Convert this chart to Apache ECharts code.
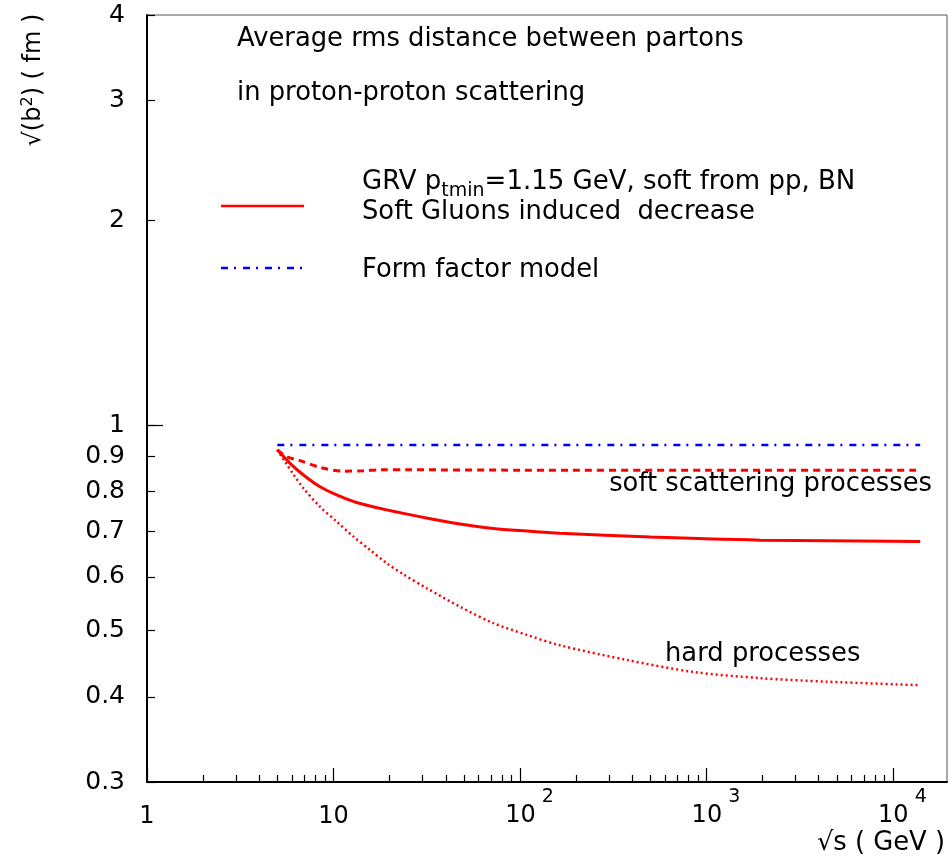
<!DOCTYPE html>
<html><head><meta charset="utf-8">
<script src="https://cdn.jsdelivr.net/npm/echarts@6/dist/echarts.min.js"></script>
<style>html,body{margin:0;padding:0;background:#fff}#c{width:949px;height:859px}</style>
</head><body><div id="c"></div>
<script>
// ---- data ----
const xMajorTicks = [1, 10, 100, 1000, 10000];
const xMinorTicks = [2,3,4,5,6,7,8,9,20,30,40,50,60,70,80,90,200,300,400,500,600,700,800,900,2000,3000,4000,5000,6000,7000,8000,9000];
const yTickLabels = [0.3, 0.4, 0.5, 0.6, 0.7, 0.8, 0.9, 1, 2, 3, 4];
const yLongTicks = [1];

const formFactorX = [5, 14000];
const formFactorY = [0.936, 0.936];

const gluonX = [5, 5.85, 6.9, 8.47, 10.4, 13.3, 19.3, 33, 47.8, 72, 109, 164, 500, 1945, 14000];
const gluonY = [0.921, 0.880, 0.846, 0.813, 0.791, 0.771, 0.752, 0.730, 0.717, 0.706, 0.700, 0.695, 0.686, 0.679, 0.676];

const softX = [5, 5.62, 6.62, 8.47, 11.3, 14.5, 17.8, 25, 100, 1000, 14000];
const softY = [0.921, 0.900, 0.888, 0.868, 0.857, 0.858, 0.861, 0.861, 0.860, 0.860, 0.860];

const hardX = [5, 5.5, 6.22, 6.9, 8.47, 10.4, 12.8, 15.7, 19.3, 23.7, 31.7, 47.8, 72, 109, 164, 374, 853, 1945, 4426, 14000];
const hardY = [0.921, 0.885, 0.841, 0.809, 0.760, 0.723, 0.687, 0.657, 0.628, 0.605, 0.577, 0.542, 0.513, 0.493, 0.476, 0.453, 0.435, 0.426, 0.421, 0.416];

// ---- chart ----
const FONT = 'DejaVu Sans';
const TXT = '25.8px "DejaVu Sans"';
const pairs = (xs, ys) => xs.map((x, i) => [x, ys[i]]);
const chart = echarts.init(document.getElementById('c'), null, {renderer: 'canvas'});

const xLabelFmt = v => {
  const e = Math.round(Math.log10(v));
  if (e === 0) return '{q|1}';
  if (e === 1) return '{q|10}';
  return '{p|10}{s|' + e + '}';
};
const yLabelFmt = v => v < 0.999 ? (Math.round(v * 10) / 10).toFixed(1) : String(Math.round(v));

const blackLine = {color: '#000', width: 2};

chart.setOption({
  animation: false,
  backgroundColor: '#fff',
  grid: {left: 147, right: 2, top: 15, bottom: 77, show: true, borderColor: '#555', borderWidth: 1, backgroundColor: 'transparent'},
  xAxis: [{
    type: 'log', logBase: 10, min: 1, max: 19500, position: 'bottom',
    axisLine: {lineStyle: blackLine},
    axisTick: {show: true, inside: true, length: 14, customValues: xMajorTicks, lineStyle: {color: '#000', width: 1.2}},
    axisLabel: {
      customValues: xMajorTicks, formatter: xLabelFmt, margin: 6, color: '#000',
      fontFamily: FONT, fontSize: 24,
      rich: {
        q: {fontFamily: FONT, fontSize: 24, color: '#000', padding: [17, 0, 0, 0], verticalAlign: 'bottom'},
        p: {fontFamily: FONT, fontSize: 24, color: '#000', padding: [0, 0, 0, 19], verticalAlign: 'bottom'},
        s: {fontFamily: FONT, fontSize: 19, color: '#000', padding: [0, 0, 21, 6], verticalAlign: 'bottom'}
      }
    },
    splitLine: {show: false}, minorTick: {show: false}
  }, {
    type: 'log', logBase: 10, min: 1, max: 19500, position: 'bottom', offset: 0,
    axisLine: {show: false},
    axisTick: {show: true, inside: true, length: 7, customValues: xMinorTicks, lineStyle: {color: '#000', width: 1.2}},
    axisLabel: {show: false}, splitLine: {show: false}
  }],
  yAxis: [{
    type: 'log', logBase: 10, min: 0.3, max: 4, position: 'left',
    axisLine: {lineStyle: blackLine},
    axisTick: {show: true, inside: true, length: 8, customValues: yTickLabels, lineStyle: {color: '#000', width: 1.2}},
    axisLabel: {customValues: yTickLabels, formatter: yLabelFmt, margin: 22, color: '#000', fontFamily: FONT, fontSize: 25},
    splitLine: {show: false}, minorTick: {show: false}
  }, {
    type: 'log', logBase: 10, min: 0.3, max: 4, position: 'left', offset: 0,
    axisLine: {show: false},
    axisTick: {show: true, inside: true, length: 16, customValues: yLongTicks, lineStyle: {color: '#000', width: 1.2}},
    axisLabel: {show: false}, splitLine: {show: false}
  }],
  series: [
    {name: 'Form factor model', type: 'line', data: pairs(formFactorX, formFactorY), showSymbol: false,
     lineStyle: {color: '#0000ff', width: 2.5, type: [7, 6, 2, 7]}},
    {name: 'Soft scattering', type: 'line', data: pairs(softX, softY), showSymbol: false, smooth: 0.3,
     lineStyle: {color: '#ff0000', width: 3, type: [7, 5]}},
    {name: 'Soft Gluons induced decrease', type: 'line', data: pairs(gluonX, gluonY), showSymbol: false, smooth: 0.3,
     lineStyle: {color: '#ff0000', width: 3, type: 'solid'}},
    {name: 'Hard processes', type: 'line', data: pairs(hardX, hardY), showSymbol: false, smooth: 0.3,
     lineStyle: {color: '#ff0000', width: 2.5, type: [2, 3]}}
  ],
  graphic: [
    {type: 'text', x: 237, y: 39, style: {text: 'Average rms distance between partons', font: TXT, fill: '#000', verticalAlign: 'middle'}},
    {type: 'text', x: 237, y: 93, style: {text: 'in proton-proton scattering', font: TXT, fill: '#000', verticalAlign: 'middle'}},
    {type: 'line', shape: {x1: 221, y1: 206, x2: 304, y2: 206}, style: {stroke: '#ff0000', lineWidth: 2.5}},
    {type: 'text', x: 362, y: 185, style: {
      text: '{a|GRV p}{b|tmin}{a|=1.15 GeV, soft from pp, BN}', fill: '#000', verticalAlign: 'middle',
      rich: {a: {fontFamily: FONT, fontSize: 26, fill: '#000', verticalAlign: 'top'},
             b: {fontFamily: FONT, fontSize: 19, fill: '#000', padding: [12, 0, 0, 0], verticalAlign: 'top'}}}},
    {type: 'text', x: 362, y: 212, style: {text: 'Soft Gluons induced  decrease', font: TXT, fill: '#000', verticalAlign: 'middle'}},
    {type: 'line', shape: {x1: 221, y1: 268, x2: 302, y2: 268}, style: {stroke: '#0000ff', lineWidth: 2.5, lineDash: [7, 6, 2, 7]}},
    {type: 'text', x: 362, y: 270, style: {text: 'Form factor model', font: TXT, fill: '#000', verticalAlign: 'middle'}},
    {type: 'text', x: 932, y: 484, style: {text: 'soft scattering processes', font: TXT, fill: '#000', align: 'right', verticalAlign: 'middle'}},
    {type: 'text', x: 665, y: 654, style: {text: 'hard processes', font: TXT, fill: '#000', verticalAlign: 'middle'}},
    {type: 'text', x: 945, y: 843, style: {text: '√s ( GeV )', font: TXT, fill: '#000', align: 'right', verticalAlign: 'middle'}},
    {type: 'text', x: 33, y: 80, rotation: Math.PI / 2, style: {
      text: '{a|√(b}{s|2}{a|) ( fm )}', align: 'center', verticalAlign: 'middle',
      rich: {a: {fontFamily: FONT, fontSize: 24, fill: '#000', verticalAlign: 'bottom'},
             s: {fontFamily: FONT, fontSize: 16, fill: '#000', padding: [0, 0, 10, 0], verticalAlign: 'bottom'}}}}
  ]
});
</script></body></html>
